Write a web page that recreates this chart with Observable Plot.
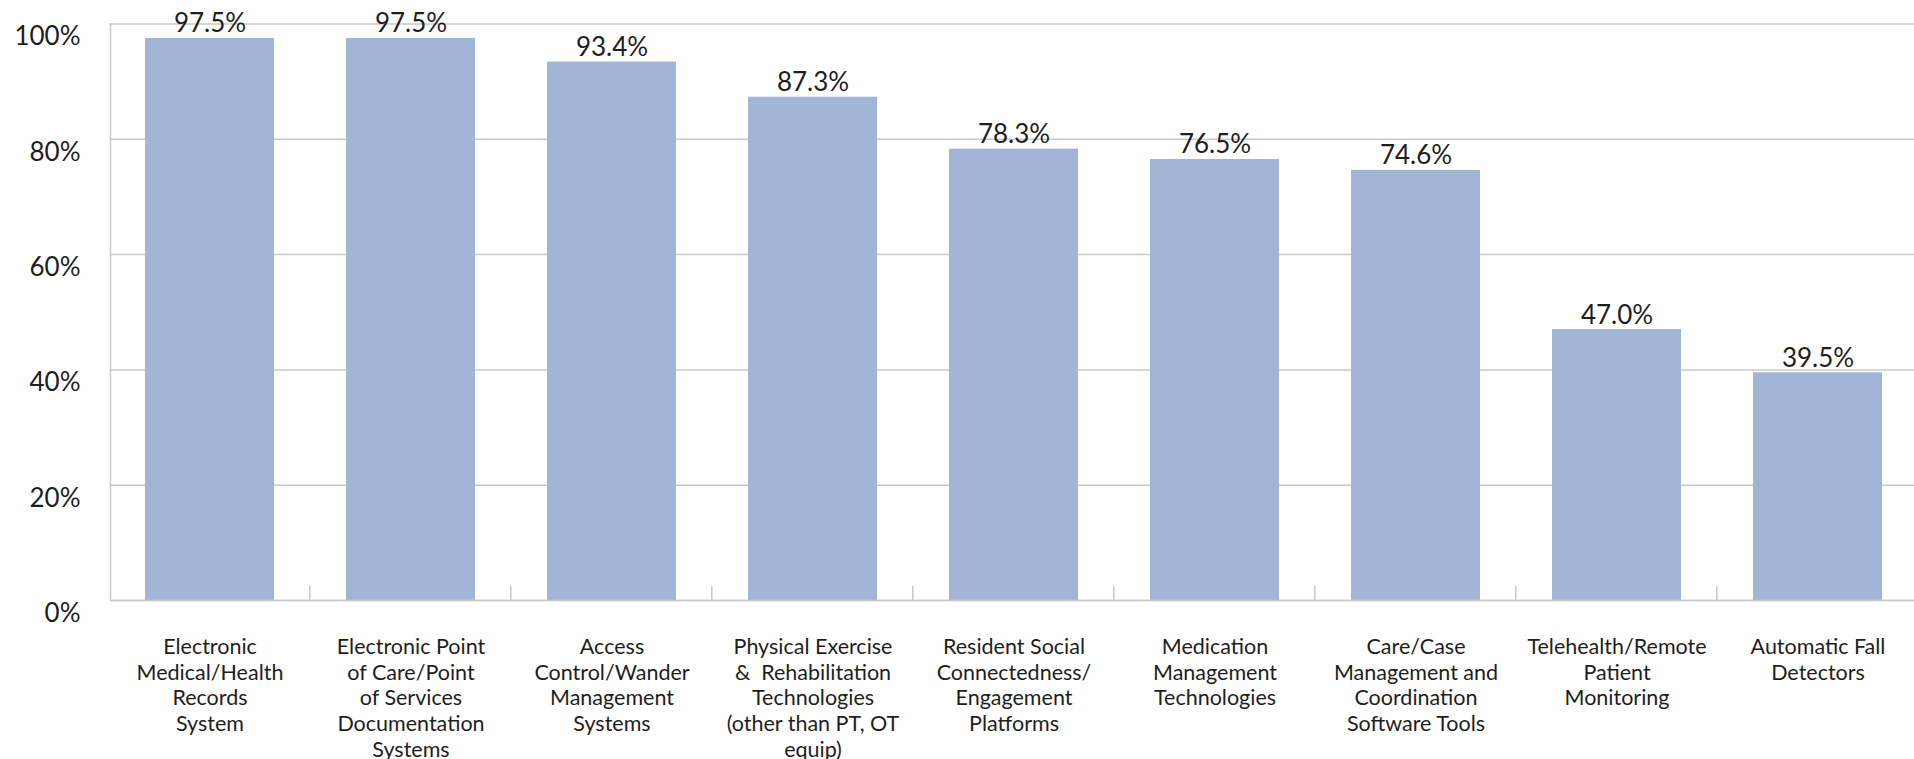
<!DOCTYPE html>
<html>
<head>
<meta charset="utf-8">
<script src="https://cdn.jsdelivr.net/npm/d3@7"></script>
<script src="https://cdn.jsdelivr.net/npm/@observablehq/plot@0.6"></script>
<style>
  html, body { margin: 0; padding: 0; background: #fff; }
  #chart svg { display: block; }
</style>
</head>
<body>
<div id="chart"></div>
<script>
const categories = [
  "Electronic Medical/Health Records System",
  "Electronic Point of Care/Point of Services Documentation Systems",
  "Access Control/Wander Management Systems",
  "Physical Exercise & Rehabilitation Technologies (other than PT, OT equip)",
  "Resident Social Connectedness/ Engagement Platforms",
  "Medication Management Technologies",
  "Care/Case Management and Coordination Software Tools",
  "Telehealth/Remote Patient Monitoring",
  "Automatic Fall Detectors"
];
const categoryLabels = [
  "Electronic\nMedical/Health\nRecords\nSystem",
  "Electronic Point\nof Care/Point\nof Services\nDocumentation\nSystems",
  "Access\nControl/Wander\nManagement\nSystems",
  "Physical Exercise\n&  Rehabilitation\nTechnologies\n(other than PT, OT\nequip)",
  "Resident Social\nConnectedness/\nEngagement\nPlatforms",
  "Medication\nManagement\nTechnologies",
  "Care/Case\nManagement and\nCoordination\nSoftware Tools",
  "Telehealth/Remote\nPatient\nMonitoring",
  "Automatic Fall\nDetectors"
];
const values = [97.5, 97.5, 93.4, 87.3, 78.3, 76.5, 74.6, 47.0, 39.5];
const yTicks = [0, 20, 40, 60, 80, 100];

const data = categories.map((c, i) => ({category: c, label: categoryLabels[i], value: values[i]}));
const labelOf = new Map(data.map(d => [d.category, d.label]));

const FONT = "Lato, 'Noto Sans', sans-serif";
const GRID = "#c9c9c9";
const TEXT = "#1e1e1e";
const PAD_INNER = 0.36;

// custom mark: small tick marks at the category boundaries along the baseline
function boundaryTicks(index, scales, values, dimensions) {
  const x = scales.x, y = scales.y;
  const step = x(categories[1]) - x(categories[0]);
  const bw = step * (1 - PAD_INNER);
  const gap = (step - bw) / 2;
  const y0 = y(0);
  const g = d3.create("svg:g");
  const bounds = categories.slice(1).map(c => x(c) - gap)
    .concat([x(categories[categories.length - 1]) + bw + gap]);
  for (const bx of bounds) {
    g.append("line")
      .attr("x1", bx).attr("x2", bx)
      .attr("y1", y0 - 14).attr("y2", y0)
      .attr("stroke", GRID).attr("stroke-width", 1.5);
  }
  return g.node();
}

const chart = Plot.plot({
  width: 1914,
  height: 759,
  marginLeft: 110,
  marginRight: -3,
  marginTop: 23.5,
  marginBottom: 159,
  style: {fontFamily: FONT, color: TEXT, background: "#fff", overflow: "visible"},
  x: {domain: categories, paddingInner: PAD_INNER, paddingOuter: 0.17, label: null},
  y: {domain: [0, 100], label: null},
  marks: [
    Plot.gridY(yTicks, {stroke: GRID, strokeOpacity: 1, strokeWidth: 1.5}),
    Plot.barY(data, {x: "category", y: "value", fill: "#a2b5d6"}),
    Plot.frame({anchor: "left", stroke: GRID, strokeWidth: 1.5}),
    Plot.ruleY([0], {stroke: GRID, strokeWidth: 1.5}),
    boundaryTicks,
    Plot.text(data, {
      x: "category", y: "value",
      text: d => d.value.toFixed(1) + "%",
      lineAnchor: "bottom", dy: -6,
      fontSize: 26, fill: TEXT
    }),
    Plot.axisY(yTicks, {
      tickSize: 0, tickPadding: 30, dy: 13,
      tickFormat: d => d + "%",
      fontSize: 26, fill: TEXT
    }),
    Plot.axisX({
      tickSize: 0, tickPadding: 35,
      tickFormat: c => labelOf.get(c),
      lineHeight: 1.2,
      fontSize: 21.5, fill: TEXT
    })
  ]
});

document.getElementById("chart").appendChild(chart);
</script>
</body>
</html>
